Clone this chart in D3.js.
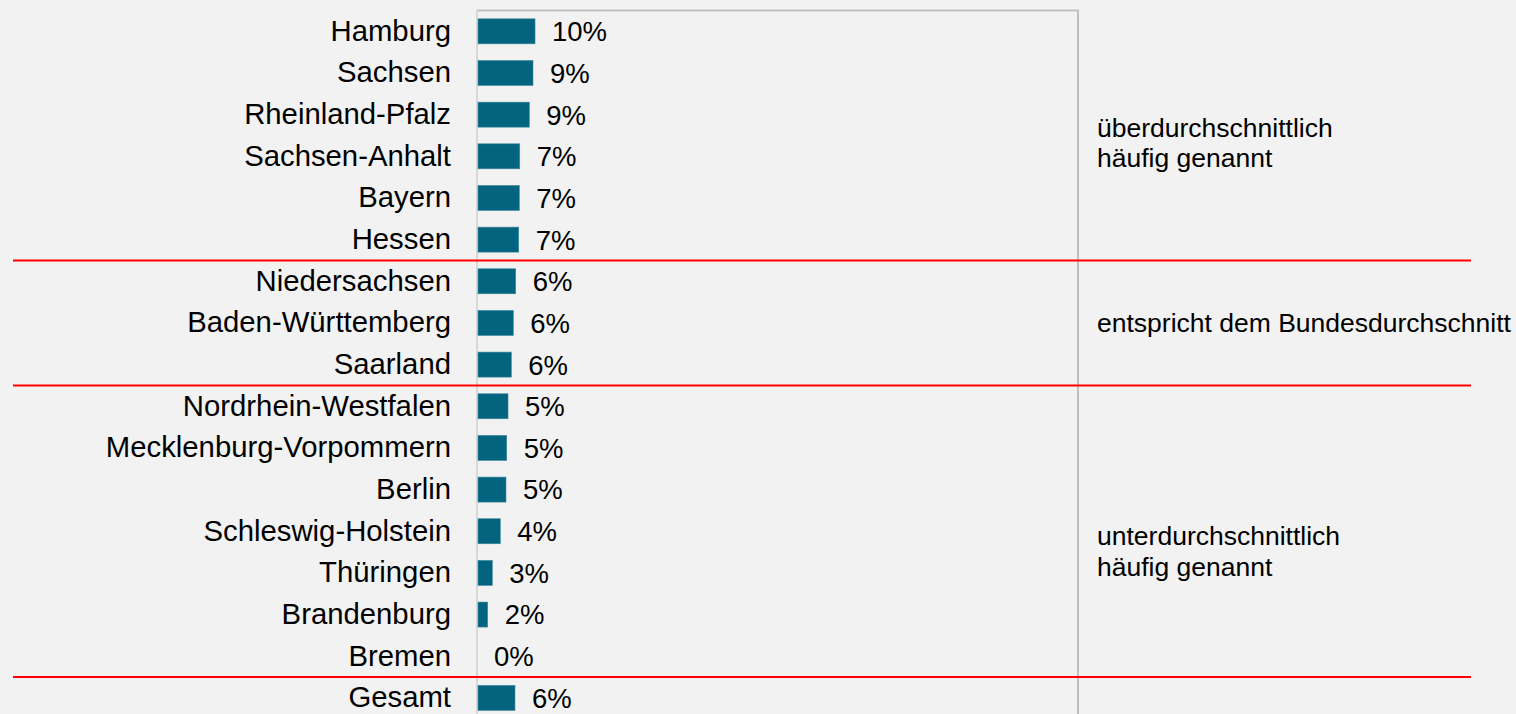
<!DOCTYPE html>
<html>
<head>
<meta charset="utf-8">
<script src="https://cdn.jsdelivr.net/npm/d3@7"></script>
<style>
  html, body { margin: 0; padding: 0; background: #f2f2f2; }
  svg { display: block; font-family: "Liberation Sans", Arial, sans-serif; }
</style>
</head>
<body>
<svg id="chart" width="1516" height="714"></svg>
<script>
// Bundesländer, sorted by share of mentions, plus the overall figure
const categories = [
  "Hamburg", "Sachsen", "Rheinland-Pfalz", "Sachsen-Anhalt", "Bayern", "Hessen",
  "Niedersachsen", "Baden-Württemberg", "Saarland",
  "Nordrhein-Westfalen", "Mecklenburg-Vorpommern", "Berlin", "Schleswig-Holstein",
  "Thüringen", "Brandenburg", "Bremen",
  "Gesamt"
];
// Share of mentions (fractions)
const values = [
  0.0967, 0.0933, 0.0872, 0.0712, 0.0705, 0.0695,
  0.0645, 0.0605, 0.0572,
  0.0517, 0.0495, 0.0483, 0.0388,
  0.0255, 0.0178, 0.0000,
  0.0633
];
// Groups: first category of each block and its annotation lines
const groupStarts = ["Hamburg", "Niedersachsen", "Nordrhein-Westfalen", "Gesamt"];
const groupLabels = [
  ["überdurchschnittlich", "häufig genannt"],
  ["entspricht dem Bundesdurchschnitt"],
  ["unterdurchschnittlich", "häufig genannt"],
  []
];

const svg = d3.select("#chart");
const W = 1516, H = 714;

svg.append("rect").attr("width", W).attr("height", H).attr("fill", "#f2f2f2");

const plotLeft = 477, plotRight = 1077, plotTop = 10.5;
const step = 41.66;

const x = d3.scaleLinear().domain([0, 1]).range([plotLeft, plotRight]);
const y = d3.scaleBand()
  .domain(categories)
  .range([plotTop, plotTop + step * categories.length])
  .paddingInner(0.4)
  .paddingOuter(0.2);

const fmt = d3.format(".0%");

// Plot frame (top and right) and category axis line
svg.append("path")
  .attr("d", `M${plotLeft},${plotTop} H${plotRight + 1} V${H + 5}`)
  .attr("fill", "none")
  .attr("stroke", "#bfbfbf")
  .attr("stroke-width", 2);
svg.append("line")
  .attr("x1", plotLeft).attr("x2", plotLeft)
  .attr("y1", plotTop).attr("y2", H + 5)
  .attr("stroke", "#cfcfcf")
  .attr("stroke-width", 1.5);

// Bars
const rows = categories.map((c, i) => ({ c, v: values[i] }));
svg.append("g").selectAll("rect")
  .data(rows.filter(d => d.v > 0))
  .join("rect")
  .attr("x", x(0) + 1)
  .attr("y", d => y(d.c))
  .attr("width", d => Math.max(0, x(d.v) - x(0) - 1))
  .attr("height", y.bandwidth())
  .attr("fill", "#02647f")
  .attr("stroke", "#3f879c")
  .attr("stroke-width", 0.6);

// Value labels
svg.append("g").selectAll("text")
  .data(rows)
  .join("text")
  .attr("x", d => x(d.v) + 17)
  .attr("y", d => y(d.c) + y.bandwidth() / 2)
  .attr("dy", "0.36em")
  .attr("font-size", "27.5px")
  .attr("fill", "#000")
  .text(d => fmt(d.v));

// Category axis
const yAxis = svg.append("g")
  .attr("transform", `translate(${plotLeft},0)`)
  .call(d3.axisLeft(y).tickSize(0).tickPadding(26));
yAxis.select(".domain").remove();
yAxis.selectAll("text")
  .attr("font-size", "29.3px")
  .attr("font-family", "\"Liberation Sans\", Arial, sans-serif")
  .attr("fill", "#000");

// Red separators between groups
const boundary = c => y(c) - y.step() * y.paddingInner() / 2;
svg.append("g").selectAll("line")
  .data(groupStarts.slice(1))
  .join("line")
  .attr("x1", 13).attr("x2", 1471)
  .attr("y1", d => boundary(d)).attr("y2", d => boundary(d))
  .attr("stroke", "#ff0000")
  .attr("stroke-width", 2);

// Group annotations on the right
const groupOffsets = [7, 0, 20];
groupLabels.forEach((lines, g) => {
  if (!lines.length) return;
  const start = g === 0 ? plotTop : boundary(groupStarts[g]);
  const bottom = boundary(groupStarts[g + 1]);
  const mid = (start + bottom) / 2 + groupOffsets[g];
  const lh = 30.5;
  const t = svg.append("text")
    .attr("x", 1097)
    .attr("font-size", "26.5px")
    .attr("fill", "#000");
  lines.forEach((ln, k) => {
    t.append("tspan")
      .attr("x", 1097)
      .attr("y", mid + (k - (lines.length - 1) / 2) * lh)
      .attr("dy", "0.35em")
      .text(ln);
  });
});
</script>
</body>
</html>
